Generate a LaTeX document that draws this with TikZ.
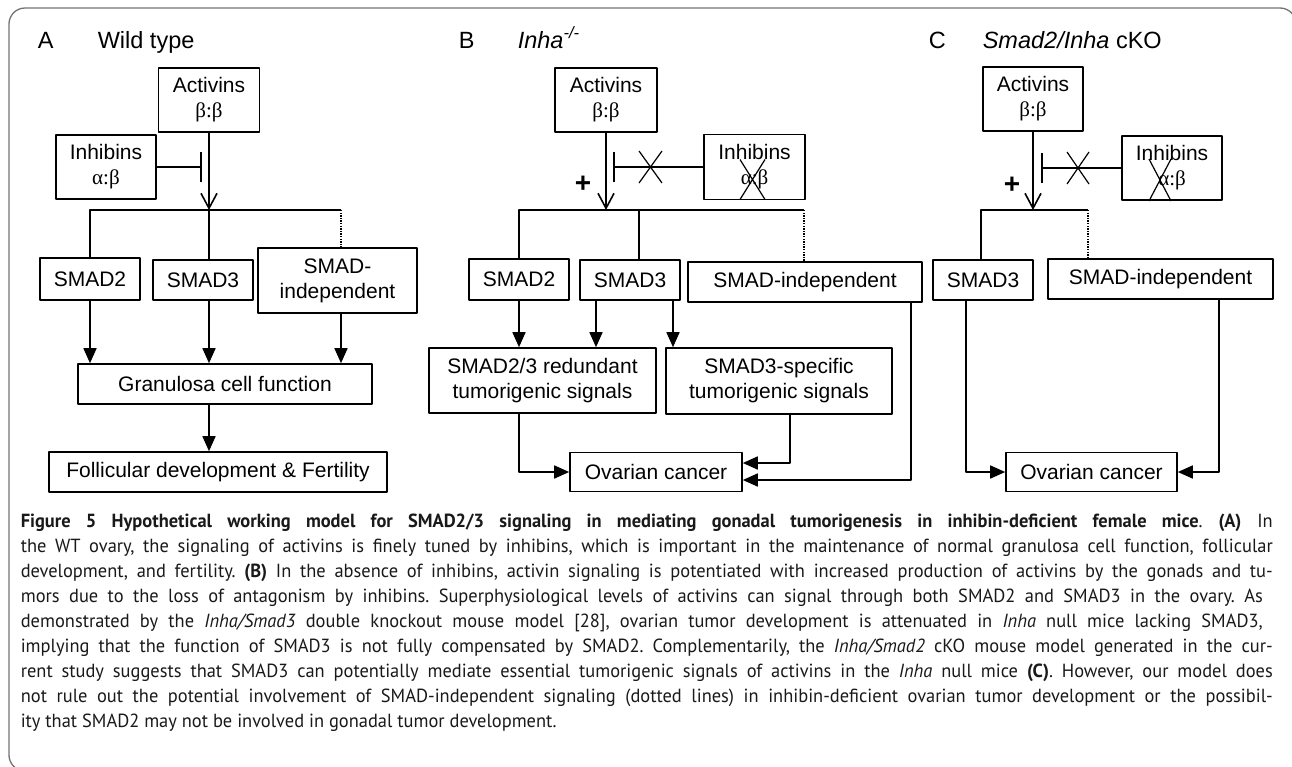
\documentclass[tikz,border=0pt]{standalone}
\usepackage{fontspec}
\setmainfont{Liberation Sans}
\newfontfamily\greek{Liberation Serif}
\newfontfamily\capfont[FakeStretch=0.97]{PT Sans}
\usetikzlibrary{arrows.meta}
\frenchspacing

\begin{document}
\begin{tikzpicture}[x=1pt, y=-1pt, line join=round, line width=1.6pt]
    \tikzset{box/.style={draw, inner sep=0pt, align=center, font=\fontsize{21}{25}\selectfont},
        head/.style={anchor=base west, inner sep=0pt, font=\fontsize{23.5}{28}\selectfont},
        arr/.style={-{Triangle[length=15pt,width=13pt]}},
        act/.style={-{Straight Barb[length=15pt,width=16pt]}},
        inh/.style={-{Bar[width=30pt]}},
        sdot/.style={line width=1.3pt, dash pattern=on 1.3pt off 1.3pt},
        nix/.style={line width=1.2pt},
        plus/.style={inner sep=0pt, font=\fontsize{28}{28}\selectfont\bfseries},
        capline/.style={anchor=base west, inner sep=0pt, text=black!90, font=\capfont\fontsize{19}{25}\selectfont}}
    \useasboundingbox (0,0) rectangle (1292,766);
    \draw[black!55, line width=1.3pt, rounded corners=16pt] (1296,60) -- (1296,8) -- (9,8) -- (9,771) -- (60,771);

    % A
    \node[head] (hA) at (37,48) {A};
    \node[head] (nA) at (97,48) {Wild type};
    \node[box, minimum width=101, minimum height=64] (actA) at (209,100) {Activins\\{\greek β:β}};
    \node[box, minimum width=100, minimum height=64] (inhA) at (106,167) {Inhibins\\{\greek α:β}};
    \node[box, minimum width=100, minimum height=42] (s2A) at (90,279) {SMAD2};
    \node[box, minimum width=100, minimum height=40] (s3A) at (203,280) {SMAD3};
    \node[box, minimum width=159, minimum height=65] (siA) at (337.5,280.5) {SMAD-\\independent};
    \node[box, minimum width=294, minimum height=40] (granA) at (225,384) {Granulosa cell function};
    \node[box, minimum width=338, minimum height=40] (follA) at (218,472) {Follicular development \& Fertility};
    \coordinate (jA) at (209,210);
    \coordinate (dA) at (341,210);
    \coordinate (bA) at (202,167);
    \draw[act] (actA) -- (jA);
    \draw[inh] (inhA) -- (bA);
    \draw (s2A.north) |- (dA);
    \draw (jA) -- (jA |- s3A.north);
    \draw[sdot] (dA) -- (dA |- siA.north);
    \draw[arr] (s2A.south) -- (s2A.south |- granA.north);
    \draw[arr] (s3A.south -| jA) -- (granA.north -| jA);
    \draw[arr] (siA.south -| dA) -- (granA.north -| dA);
    \draw[arr] (granA.south -| jA) -- (follA.north -| jA);

    % B
    \node[head] (hB) at (458,48) {B};
    \node[head] (nB) at (517,48) {\textit{Inha}\textsuperscript{\textit{-/-}}};
    \node[box, minimum width=102, minimum height=64] (actB) at (606,100) {Activins\\{\greek β:β}};
    \node[box, minimum width=101, minimum height=65] (inhB) at (754.5,167) {Inhibins\\{\greek α:β}};
    \node[box, minimum width=100, minimum height=41] (s2B) at (519,279.5) {SMAD2};
    \node[box, minimum width=100, minimum height=40] (s3B) at (630,280) {SMAD3};
    \node[box, minimum width=234, minimum height=40] (siB) at (805,282) {SMAD-independent};
    \node[box, minimum width=227, minimum height=65] (redB) at (542.5,380.5) {SMAD2/3 redundant\\tumorigenic signals};
    \node[box, minimum width=226, minimum height=66] (specB) at (779,381) {SMAD3-specific\\tumorigenic signals};
    \node[box, minimum width=172, minimum height=39] (ovB) at (656,472) {Ovarian cancer};
    \node[plus] (plusB) at (583,184) {+};
    \coordinate (jB) at (606,210);
    \coordinate (mB) at (639,210);
    \coordinate (dB) at (804,210);
    \coordinate (bB) at (613,167);
    \coordinate (aB) at (596,0);
    \coordinate (kB) at (673,0);
    \coordinate (cB) at (790,463);
    \coordinate (eB) at (911,480);
    \draw[act] (actB) -- (jB);
    \draw[inh] (inhB) -- (bB);
    \draw (s2B.north) |- (dB);
    \draw (mB) -- (mB |- s3B.north);
    \draw[sdot] (dB) -- (dB |- siB.north);
    \draw[arr] (s2B.south) -- (s2B.south |- redB.north);
    \draw[arr] (s3B.south -| aB) -- (redB.north -| aB);
    \draw[arr] (s3B.south -| kB) -- (specB.north -| kB);
    \draw[arr] (redB.south -| s2B) |- (ovB.west);
    \draw[arr] (specB.south -| cB) |- (ovB.east |- cB);
    \draw[arr] (siB.south -| eB) |- (ovB.east |- eB);
    \draw[nix] (650.5,167) +(-11.5,-16) -- +(11.5,16) +(-11.5,16) -- +(11.5,-16);
    \draw[nix] (752.5,179.5) +(-12.5,-20) -- +(12.5,20) +(-12.5,20) -- +(12.5,-20);

    % C
    \node[head] (hC) at (928,48) {C};
    \node[head] (nC) at (982,48) {\textit{Smad2/Inha} cKO};
    \node[box, minimum width=100, minimum height=64] (actC) at (1033,99) {Activins\\{\greek β:β}};
    \node[box, minimum width=100, minimum height=64] (inhC) at (1172,168) {Inhibins\\{\greek α:β}};
    \node[box, minimum width=100, minimum height=40] (s3C) at (983,280) {SMAD3};
    \node[box, minimum width=225, minimum height=40] (siC) at (1160.5,279) {SMAD-independent};
    \node[box, minimum width=171, minimum height=39] (ovC) at (1091.5,472) {Ovarian cancer};
    \node[plus] (plusC) at (1012,185) {+};
    \coordinate (jC) at (1033,210);
    \coordinate (lC) at (981,210);
    \coordinate (dC) at (1088,210);
    \coordinate (bC) at (1041,168);
    \coordinate (aC) at (966,0);
    \coordinate (kC) at (1219,0);
    \draw[act] (actC) -- (jC);
    \draw[inh] (inhC) -- (bC);
    \draw (lC |- s3C.north) |- (dC);
    \draw[sdot] (dC) -- (dC |- siC.north);
    \draw[arr] (s3C.south -| aC) |- (ovC.west);
    \draw[arr] (siC.south -| kC) |- (ovC.east);
    \draw[nix] (1078,168) +(-11,-16) -- +(11,16) +(-11,16) -- +(11,-16);
    \draw[nix] (1160,180) +(-11,-21) -- +(11,21) +(-11,21) -- +(11,-21);

    % caption
    \node[capline] (cap1) at (20,527) {\makebox[1252pt][s]{\textbf{Figure 5 Hypothetical working model for SMAD2/3 signaling in mediating gonadal tumorigenesis in inhibin-deficient female mice}. \textbf{(A)} In}};
    \node[capline] (cap2) at (20,552) {\makebox[1252pt][s]{the WT ovary, the signaling of activins is finely tuned by inhibins, which is important in the maintenance of normal granulosa cell function, follicular}};
    \node[capline] (cap3) at (20,577) {\makebox[1252pt][s]{development, and fertility. \textbf{(B)} In the absence of inhibins, activin signaling is potentiated with increased production of activins by the gonads and tu-}};
    \node[capline] (cap4) at (20,602) {\makebox[1242pt][s]{mors due to the loss of antagonism by inhibins. Superphysiological levels of activins can signal through both SMAD2 and SMAD3 in the ovary. As}};
    \node[capline] (cap5) at (20,627) {\makebox[1242pt][s]{demonstrated by the \textit{Inha/Smad3} double knockout mouse model [28], ovarian tumor development is attenuated in \textit{Inha} null mice lacking SMAD3,}};
    \node[capline] (cap6) at (20,652) {\makebox[1252pt][s]{implying that the function of SMAD3 is not fully compensated by SMAD2. Complementarily, the \textit{Inha/Smad2} cKO mouse model generated in the cur-}};
    \node[capline] (cap7) at (20,677) {\makebox[1252pt][s]{rent study suggests that SMAD3 can potentially mediate essential tumorigenic signals of activins in the \textit{Inha} null mice \textbf{(C)}. However, our model does}};
    \node[capline] (cap8) at (20,702) {\makebox[1252pt][s]{not rule out the potential involvement of SMAD-independent signaling (dotted lines) in inhibin-deficient ovarian tumor development or the possibil-}};
    \node[capline] (cap9) at (20,727) {ity that SMAD2 may not be involved in gonadal tumor development.};
\end{tikzpicture}
\end{document}
